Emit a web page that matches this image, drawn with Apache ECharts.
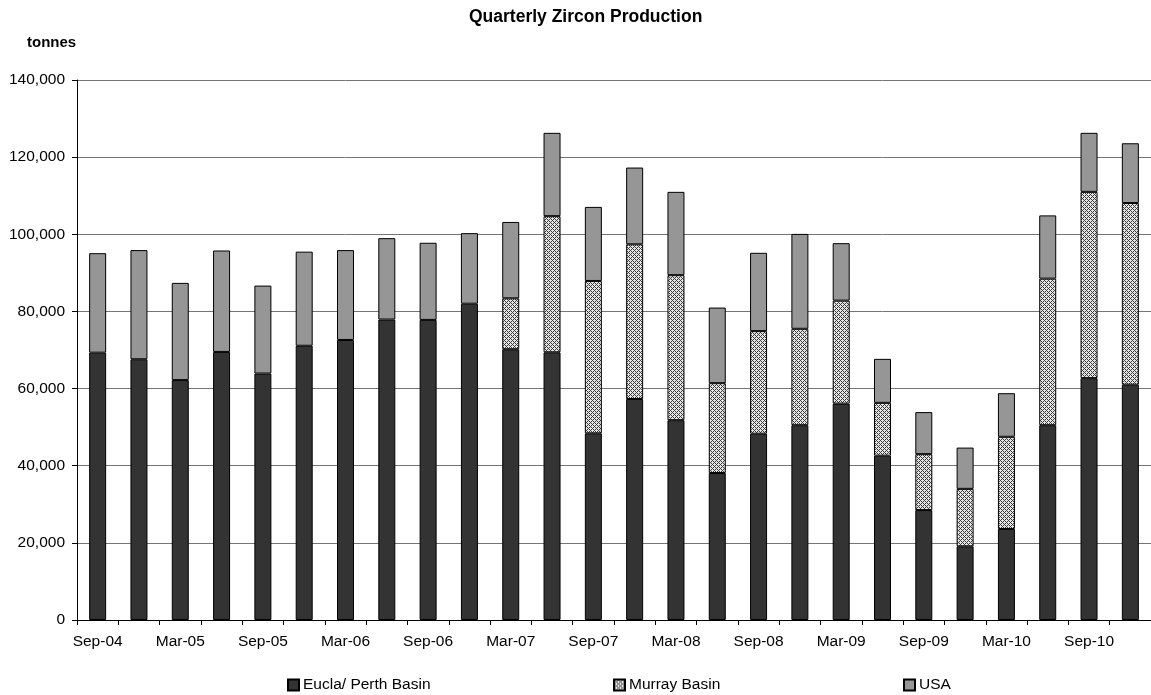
<!DOCTYPE html>
<html>
<head>
<meta charset="utf-8">
<title>Quarterly Zircon Production</title>
<script src="https://cdn.jsdelivr.net/npm/echarts@6/dist/echarts.min.js"></script>
<style>
  html, body { margin: 0; padding: 0; background: #fff; }
  #chart { width: 1151px; height: 695px; }
</style>
</head>
<body>
<div id="chart"></div>
<script>
// Quarters, September 2004 to December 2010
const quarters = [
  'Sep-04', 'Dec-04', 'Mar-05', 'Jun-05', 'Sep-05', 'Dec-05', 'Mar-06', 'Jun-06', 'Sep-06',
  'Dec-06', 'Mar-07', 'Jun-07', 'Sep-07', 'Dec-07', 'Mar-08', 'Jun-08', 'Sep-08', 'Dec-08',
  'Mar-09', 'Jun-09', 'Sep-09', 'Dec-09', 'Mar-10', 'Jun-10', 'Sep-10', 'Dec-10'
];

// Production by region, tonnes
const euclaPerth = [
  69300, 67600, 62200, 69500, 63900, 71100, 72600, 77900, 77800,
  82000, 70200, 69400, 48400, 57300, 51800, 38100, 48300, 50500,
  56100, 42600, 28500, 19100, 23600, 50500, 62700, 61000
];
const murrayBasin = [
  0, 0, 0, 0, 0, 0, 0, 0, 0,
  0, 13200, 35300, 39500, 40100, 37600, 23300, 26600, 25000,
  26700, 13700, 14500, 14900, 23900, 38000, 48300, 47100
];
const usa = [
  25800, 28300, 25200, 26300, 22800, 24400, 23300, 21100, 20000,
  18300, 19800, 21600, 19200, 19900, 21600, 19600, 20300, 24600,
  14900, 11400, 10900, 10700, 11300, 16400, 15300, 15500
];

const seriesNames = ['Eucla/ Perth Basin', 'Murray Basin', 'USA'];

const FONT = '"Liberation Sans", Arial, sans-serif';

// Zero-tonne quarters get no segment (avoids an empty outlined sliver)
const noZero = arr => arr.map(v => (v === 0 ? '-' : v));

// Small cross-hatch tile used as the Murray Basin fill
function hatchTile() {
  const c = document.createElement('canvas');
  c.width = 4; c.height = 4;
  const g = c.getContext('2d');
  g.fillStyle = '#e6e6e6';
  g.fillRect(0, 0, 4, 4);
  g.fillStyle = '#3c3c3c';
  for (let y = 0; y < 4; y++) {
    for (let x = 0; x < 4; x++) {
      if ((x - y + 4) % 4 === 0 || (x + y) % 4 === 0) g.fillRect(x, y, 1, 1);
    }
  }
  return c;
}

const chart = echarts.init(document.getElementById('chart'), null, { renderer: 'canvas' });

const barBase = {
  type: 'bar',
  stack: 'total',
  barWidth: 17,
  emphasis: { disabled: true }
};

function legendFor(name, left) {
  return {
    data: [name],
    left: left,
    top: 677,
    icon: 'rect',
    itemWidth: 11,
    itemHeight: 11,
    itemGap: 0,
    padding: 0,
    selectedMode: false,
    textStyle: { fontFamily: FONT, fontSize: 15.5, color: '#000', padding: [0, 0, 0, -1] }
  };
}

chart.setOption({
  animation: false,
  backgroundColor: '#fff',
  title: [
    {
      text: 'Quarterly Zircon Production',
      left: 469, top: 8, padding: 0,
      textStyle: { fontFamily: FONT, fontSize: 17.5, fontWeight: 'bold', color: '#000' }
    },
    {
      text: 'tonnes',
      left: 27, top: 35, padding: 0,
      textStyle: { fontFamily: FONT, fontSize: 15, fontWeight: 'bold', color: '#000' }
    }
  ],
  legend: [
    legendFor(seriesNames[0], 287),
    legendFor(seriesNames[1], 613),
    legendFor(seriesNames[2], 903)
  ],
  grid: { left: 77, top: 80, width: 1080, height: 540, containLabel: false },
  xAxis: {
    type: 'category',
    data: quarters,
    boundaryGap: true,
    axisLine: { lineStyle: { color: '#000', width: 1 } },
    axisTick: { show: true, length: 5, interval: 0, alignWithLabel: false, lineStyle: { color: '#000' } },
    axisLabel: {
      interval: 1,
      margin: 14,
      fontFamily: FONT, fontSize: 15.5, color: '#000'
    },
    splitLine: { show: false }
  },
  yAxis: {
    type: 'value',
    min: 0, max: 140000, interval: 20000,
    axisLine: { show: true, lineStyle: { color: '#000', width: 1 } },
    axisTick: { show: true, length: 5, lineStyle: { color: '#000' } },
    axisLabel: {
      margin: 12,
      fontFamily: FONT, fontSize: 15.5, color: '#000',
      formatter: v => v.toLocaleString('en-US')
    },
    splitLine: { show: true, lineStyle: { color: '#757575', width: 1 } }
  },
  series: [
    Object.assign({}, barBase, {
      name: seriesNames[0],
      data: euclaPerth,
      itemStyle: { color: '#333333', borderColor: '#000', borderWidth: 1 }
    }),
    Object.assign({}, barBase, {
      name: seriesNames[1],
      data: noZero(murrayBasin),
      itemStyle: { color: { image: hatchTile(), repeat: 'repeat' }, borderColor: '#000', borderWidth: 1 }
    }),
    Object.assign({}, barBase, {
      name: seriesNames[2],
      data: usa,
      itemStyle: { color: '#969696', borderColor: '#000', borderWidth: 1 }
    })
  ]
});
</script>
</body>
</html>
